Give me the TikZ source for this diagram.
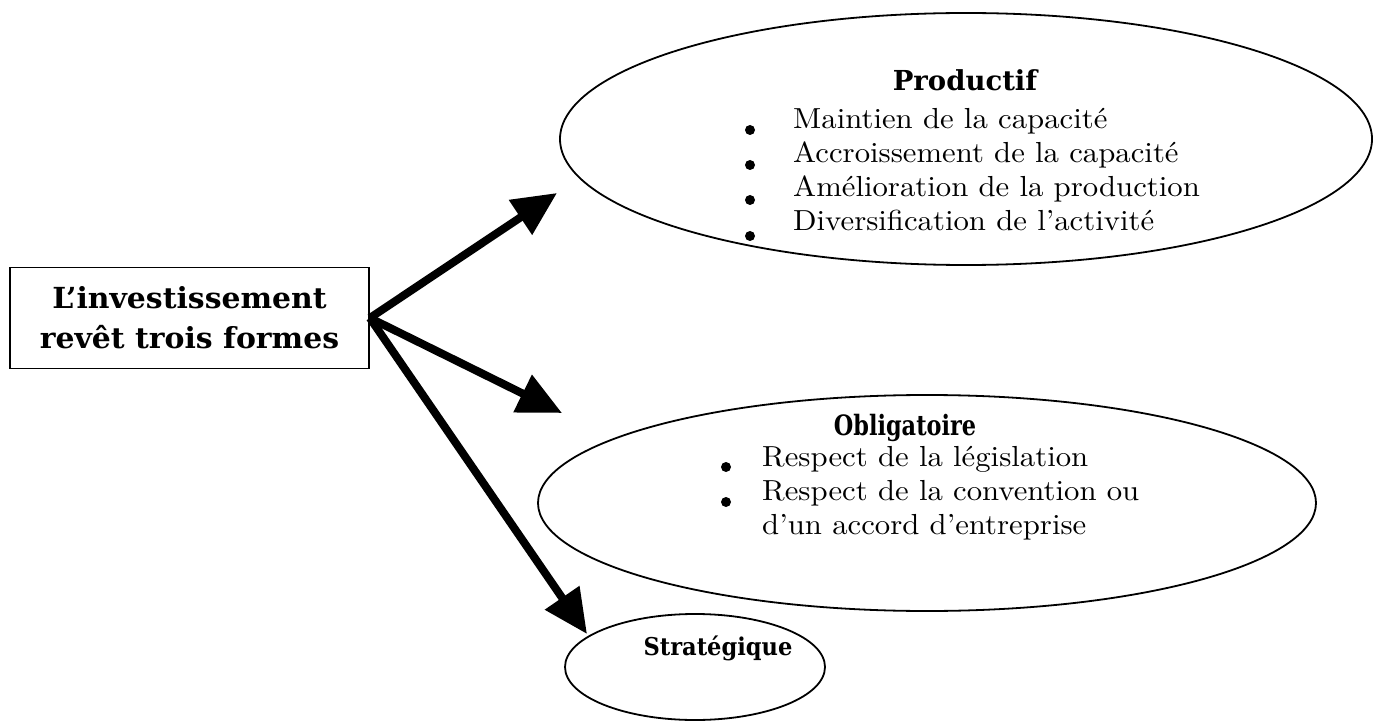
\documentclass[tikz,border=0pt]{standalone}
\usepackage{fontspec}
\usetikzlibrary{arrows.meta,shapes.geometric}
\newfontfamily\bodyfont{lmroman10-regular.otf}[FakeStretch=1.06]
\newfontfamily\headfont{DejaVu Serif}
\newfontfamily\headwide{DejaVu Serif}[FakeStretch=1.03]
\newfontfamily\headcond{DejaVu Serif}[FakeStretch=0.8]
\newfontfamily\headsemi{DejaVu Serif}[FakeStretch=0.92]
\begin{document}
\begin{tikzpicture}[x=1pt,y=-1pt,
  oval/.style={draw, ellipse, line width=1.8pt, inner sep=0pt},
  bodytext/.style={font=\bodyfont\fontsize{29}{35}\selectfont, anchor=base west, inner sep=0pt},
  title/.style={font=\headfont\bfseries\fontsize{27.5}{32}\selectfont, anchor=base, inner sep=0pt},
  condtitle/.style={font=\headcond\bfseries\fontsize{28}{32}\selectfont, anchor=base, inner sep=0pt},
  semititle/.style={font=\headsemi\bfseries\fontsize{24.5}{30}\selectfont, anchor=base, inner sep=0pt},
  bullet/.style={circle, fill, inner sep=0pt, minimum size=10pt},
  bigarrow/.style={line width=8pt, -{Triangle[length=44pt,width=40pt]}},
  framebox/.style={draw, line width=1.8pt, align=center, inner sep=0pt,
    font=\headwide\bfseries\fontsize{29}{40}\selectfont}]
\useasboundingbox (0,0) rectangle (1374,722);

% source box
\node[framebox, minimum width=359pt, minimum height=101pt] (box) at (189.5,318)
  {L’investissement\\revêt trois formes};

% ellipses
\node[oval, minimum width=812pt, minimum height=252pt] (e1) at (966,139) {};
\node[oval, minimum width=778pt, minimum height=216pt] (e2) at (927,503) {};
\node[oval, minimum width=260pt, minimum height=106pt] (e3) at (695,667) {};

% arrow tips
\coordinate (t1) at (557,193);
\coordinate (t2) at (562,413);
\coordinate (t3) at (587,634);
\draw[bigarrow] (box.east) -- (t1);
\draw[bigarrow] (box.east) -- (t2);
\draw[bigarrow] (box.east) -- (t3);

% Productif
\node[title] (p) at (965,91) {Productif};
\node[bullet] (pb1) at (750,130) {};
\node[bullet] (pb2) at (750,165) {};
\node[bullet] (pb3) at (750,200) {};
\node[bullet] (pb4) at (750,236) {};
\node[bodytext] (p1) at (793,129) {Maintien de la capacité};
\node[bodytext] (p2) at (793,163) {Accroissement de la capacité};
\node[bodytext] (p3) at (793,197) {Amélioration de la production};
\node[bodytext] (p4) at (793,231) {Diversification de l’activité};

% Obligatoire
\node[condtitle] (o) at (905,435) {Obligatoire};
\node[bullet] (ob1) at (726,467) {};
\node[bullet] (ob2) at (726,502) {};
\node[bodytext] (o1) at (762,466) {Respect de la législation};
\node[bodytext] (o2) at (762,500) {Respect de la convention ou};
\node[bodytext] (o3) at (762,534) {d’un accord d’entreprise};

% Strategique
\node[semititle] (s) at (718,655) {Stratégique};
\end{tikzpicture}
\end{document}
